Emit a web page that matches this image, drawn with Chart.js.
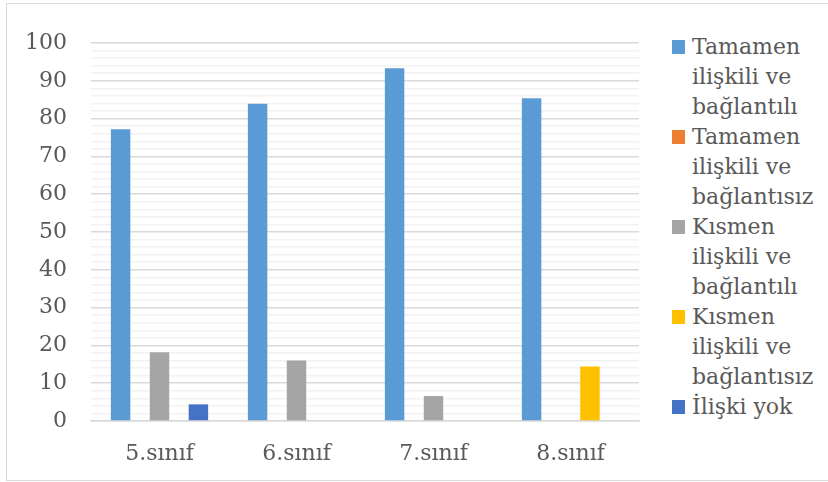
<!DOCTYPE html>
<html lang="tr">
<head>
<meta charset="utf-8">
<title>Sınıf düzeyine göre dağılım</title>
<script src="https://cdn.jsdelivr.net/npm/chart.js@4.4.1/dist/chart.umd.min.js"></script>
<style>
  html, body { margin: 0; padding: 0; background: #fff; }
  body { width: 828px; height: 482px; position: relative; overflow: hidden; font-family: 'DejaVu Serif', serif; }
  .frame { position: absolute; left: 6px; top: 3px; width: 840px; height: 476px; border: 1px solid #d9d9d9; border-right: none; }
  .plot { position: absolute; left: 0; top: 0; width: 660px; height: 482px; }
  #legend { position: absolute; left: 672px; top: 32px; margin: 0; padding: 0; list-style: none; }
  #legend li { position: relative; padding-left: 20px; width: 132px; font-size: 22px; line-height: 30px; color: #595959; }
  #legend .box { position: absolute; left: 0; top: 8px; width: 13px; height: 14px; }
</style>
</head>
<body>
<div class="frame"></div>
<div class="plot"><canvas id="barChart" width="660" height="482"></canvas></div>
<ul id="legend"></ul>
<script>
const grades = ['5.sınıf', '6.sınıf', '7.sınıf', '8.sınıf']

const seriesNames = [
  'Tamamen ilişkili ve bağlantılı',
  'Tamamen ilişkili ve bağlantısız',
  'Kısmen ilişkili ve bağlantılı',
  'Kısmen ilişkili ve bağlantısız',
  'İlişki yok',
]

const fullConnected = [77.2, 83.9, 93.3, 85.4]
const fullUnconnected = [0, 0, 0, 0]
const partConnected = [18.2, 16.0, 6.6, 0]
const partUnconnected = [0, 0, 0, 14.4]
const noRelation = [4.4, 0, 0, 0]

const seriesColors = ['#5b9bd5', '#ed7d31', '#a5a5a5', '#ffc000', '#4472c4']

const yMax = 100
const yMajorStep = 10
const yMinorStep = 2

const values = [fullConnected, fullUnconnected, partConnected, partUnconnected, noRelation]

const textColor = '#595959'
const font = { family: "'DejaVu Serif', serif", size: 22 }

const ctx = document.getElementById('barChart').getContext('2d')
new Chart(ctx, {
  type: 'bar',
  data: {
    labels: grades,
    datasets: values.map((data, i) => ({
      label: seriesNames[i],
      data,
      backgroundColor: seriesColors[i],
      borderWidth: 0,
      categoryPercentage: 0.71,
      barPercentage: 1,
    })),
  },
  options: {
    responsive: false,
    animation: false,
    layout: { padding: { left: 6, right: 21, top: 43, bottom: 0 } },
    plugins: {
      legend: { display: false },
      tooltip: { enabled: false },
    },
    scales: {
      x: {
        grid: { display: false },
        border: { color: '#d9d9d9', width: 1.5 },
        ticks: { color: textColor, font, padding: 12 },
        afterFit: (scale) => { scale.height = 61 },
      },
      y: {
        min: 0,
        max: yMax,
        border: { display: false },
        grid: {
          drawTicks: false,
          color: (c) => (c.tick.value % yMajorStep === 0 ? '#d9d9d9' : '#f2f2f2'),
          lineWidth: 1.5,
        },
        ticks: {
          stepSize: yMinorStep,
          autoSkip: false,
          color: textColor,
          font,
          padding: 24,
          callback: (v) => (v % yMajorStep === 0 ? v : ''),
        },
        afterFit: (scale) => { scale.width = 85 },
      },
    },
  },
})

// legend built by hand so long labels can wrap onto several lines
const legend = document.getElementById('legend')
seriesNames.forEach((name, i) => {
  const li = document.createElement('li')
  li.innerHTML = `<span class="box" style="background:${seriesColors[i]}"></span>${name}`
  legend.appendChild(li)
})
</script>
</body>
</html>
